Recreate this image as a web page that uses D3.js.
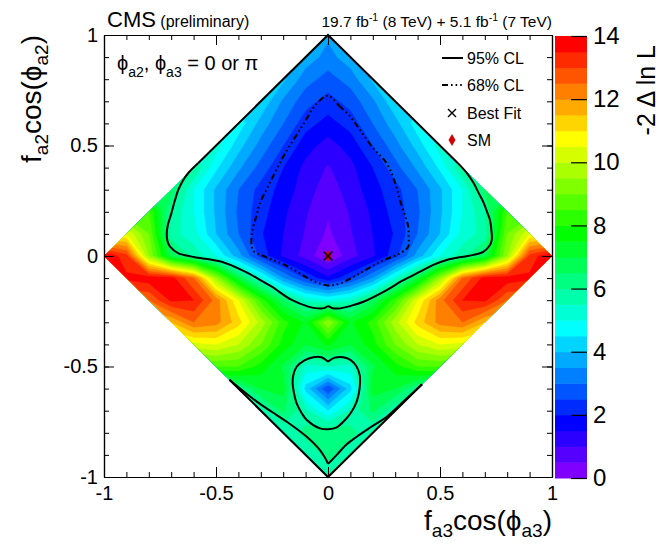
<!DOCTYPE html>
<html>
<head>
<meta charset="utf-8">
<script src="https://cdn.jsdelivr.net/npm/d3@7"></script>
<style>
  body { margin: 0; background: #fff; }
  svg text { font-family: "Liberation Sans", Arial, Helvetica, sans-serif; fill: #000; }
</style>
</head>
<body>
<script>
// grid of -2 Delta ln L on a 0.1 step
var GRID_X = [-1.0, -0.9, -0.8, -0.7, -0.6, -0.5, -0.4, -0.3, -0.2, -0.1, 0.0, 0.1, 0.2, 0.3, 0.4, 0.5, 0.6, 0.7, 0.8, 0.9, 1.0];
var GRID_Y = [1.0, 0.9, 0.8, 0.7, 0.6, 0.5, 0.4, 0.3, 0.2, 0.1, 0.0, -0.1, -0.2, -0.3, -0.4, -0.5, -0.6, -0.7, -0.8, -0.9, -1.0];
var NLL = [
  [3.6, 3.6, 3.6, 3.6, 3.6, 3.6, 3.6, 3.6, 3.6, 3.6, 3.6, 3.6, 3.6, 3.6, 3.6, 3.6, 3.6, 3.6, 3.6, 3.6, 3.6],
  [3.8, 3.8, 3.8, 3.8, 3.8, 3.8, 3.8, 3.8, 3.8, 3.8, 3.3, 3.8, 3.8, 3.8, 3.8, 3.8, 3.8, 3.8, 3.8, 3.8, 3.8],
  [4.1, 4.1, 4.1, 4.1, 4.1, 4.1, 4.1, 4.1, 4.1, 3.2, 2.8, 3.2, 4.1, 4.1, 4.1, 4.1, 4.1, 4.1, 4.1, 4.1, 4.1],
  [4.4, 4.4, 4.4, 4.4, 4.4, 4.4, 4.4, 4.4, 3.4, 2.7, 2.3, 2.7, 3.4, 4.4, 4.4, 4.4, 4.4, 4.4, 4.4, 4.4, 4.4],
  [4.8, 4.8, 4.8, 4.8, 4.8, 4.8, 4.8, 3.8, 3.0, 2.2, 1.8, 2.2, 3.0, 3.8, 4.8, 4.8, 4.8, 4.8, 4.8, 4.8, 4.8],
  [5.3, 5.3, 5.3, 5.3, 5.3, 5.3, 4.2, 3.3, 2.5, 1.7, 1.3, 1.7, 2.5, 3.3, 4.2, 5.3, 5.3, 5.3, 5.3, 5.3, 5.3],
  [6.0, 6.0, 6.0, 6.0, 6.0, 4.6, 3.6, 2.8, 2.0, 1.35, 0.95, 1.35, 2.0, 2.8, 3.6, 4.6, 6.0, 6.0, 6.0, 6.0, 6.0],
  [6.6, 6.6, 6.6, 6.6, 5.0, 3.9, 3.0, 2.3, 1.8, 1.2, 0.75, 1.2, 1.8, 2.3, 3.0, 3.9, 5.0, 6.6, 6.6, 6.6, 6.6],
  [8.5, 8.5, 8.5, 5.9, 5.0, 3.9, 2.9, 2.2, 1.6, 1.05, 0.55, 1.05, 1.6, 2.2, 2.9, 3.9, 5.0, 5.9, 8.5, 8.5, 8.5],
  [10.5, 10.5, 9.0, 5.7, 5.2, 4.0, 3.0, 2.05, 1.5, 0.95, 0.4, 0.95, 1.5, 2.05, 3.0, 4.0, 5.2, 5.7, 9.0, 10.5, 10.5],
  [14.0, 13.2, 9.5, 6.8, 5.8, 5.0, 3.7, 2.3, 1.4, 0.8, 0.0, 0.8, 1.4, 2.3, 3.7, 5.0, 5.8, 6.8, 9.5, 13.2, 14.0],
  [13.6, 13.6, 13.8, 13.7, 12.5, 9.5, 7.0, 5.2, 3.5, 2.4, 1.6, 2.4, 3.5, 5.2, 7.0, 9.5, 12.5, 13.7, 13.8, 13.6, 13.6],
  [12.5, 12.5, 12.5, 13.6, 13.5, 12.3, 10.5, 8.3, 6.6, 5.4, 5.0, 5.4, 6.6, 8.3, 10.5, 12.3, 13.5, 13.6, 12.5, 12.5, 12.5],
  [11.5, 11.5, 11.5, 11.5, 12.5, 12.2, 11.2, 9.8, 8.2, 7.4, 9.5, 7.4, 8.2, 9.8, 11.2, 12.2, 12.5, 11.5, 11.5, 11.5, 11.5],
  [10.3, 10.3, 10.3, 10.3, 10.3, 10.5, 10.0, 9.0, 7.8, 7.0, 7.6, 7.0, 7.8, 9.0, 10.0, 10.5, 10.3, 10.3, 10.3, 10.3, 10.3],
  [8.5, 8.5, 8.5, 8.5, 8.5, 8.5, 8.5, 7.8, 6.9, 5.3, 5.5, 5.3, 6.9, 7.8, 8.5, 8.5, 8.5, 8.5, 8.5, 8.5, 8.5],
  [6.0, 6.0, 6.0, 6.0, 6.0, 6.0, 6.0, 7.0, 7.2, 4.3, 2.5, 4.3, 7.2, 7.0, 6.0, 6.0, 6.0, 6.0, 6.0, 6.0, 6.0],
  [5.6, 5.6, 5.6, 5.6, 5.6, 5.6, 5.6, 5.6, 6.6, 5.6, 4.5, 5.6, 6.6, 5.6, 5.6, 5.6, 5.6, 5.6, 5.6, 5.6, 5.6],
  [5.5, 5.5, 5.5, 5.5, 5.5, 5.5, 5.5, 5.5, 5.5, 6.2, 6.5, 6.2, 5.5, 5.5, 5.5, 5.5, 5.5, 5.5, 5.5, 5.5, 5.5],
  [5.5, 5.5, 5.5, 5.5, 5.5, 5.5, 5.5, 5.5, 5.5, 5.5, 6.2, 5.5, 5.5, 5.5, 5.5, 5.5, 5.5, 5.5, 5.5, 5.5, 5.5],
  [5.5, 5.5, 5.5, 5.5, 5.5, 5.5, 5.5, 5.5, 5.5, 5.5, 5.5, 5.5, 5.5, 5.5, 5.5, 5.5, 5.5, 5.5, 5.5, 5.5, 5.5]
];

// contour lines (x, y)
var CL95_EDGE = [[-0.58, 0.42], [0, 1], [0.58, 0.42]];
var CL95_RIGHT = [[0.58, 0.42], [0.62, 0.375], [0.65, 0.33], [0.675, 0.28], [0.693, 0.245], [0.71, 0.2], [0.723, 0.163], [0.73, 0.11], [0.731, 0.072], [0.72, 0.045], [0.693, 0.019], [0.65, 0.005], [0.604, -0.003], [0.53, -0.018], [0.47, -0.04], [0.411, -0.071], [0.33, -0.113], [0.262, -0.154], [0.158, -0.207], [0.1, -0.226], [0.054, -0.237], [0.02, -0.236], [0, -0.226]];
var CL95_LEFT = [[-0.58, 0.42], [-0.62, 0.38], [-0.646, 0.344], [-0.668, 0.3], [-0.683, 0.253], [-0.7, 0.19], [-0.715, 0.14], [-0.72, 0.1], [-0.716, 0.065], [-0.705, 0.042], [-0.668, 0.012], [-0.62, 0.0], [-0.594, -0.006], [-0.475, -0.026], [-0.37, -0.071], [-0.3, -0.11], [-0.251, -0.139], [-0.162, -0.199], [-0.088, -0.229], [-0.045, -0.237], [-0.018, -0.236], [0, -0.226]];
var CL95_LOW_EDGE = [[-0.44, -0.56], [0, -1], [0.42, -0.58]];
var CL95_LOW_RIGHT = [[0.42, -0.58], [0.34, -0.655], [0.262, -0.727], [0.19, -0.775], [0.128, -0.818], [0.08, -0.855], [0.039, -0.9], [0.015, -0.925], [0, -0.94]];
var CL95_LOW_LEFT = [[-0.44, -0.56], [-0.38, -0.61], [-0.318, -0.659], [-0.25, -0.706], [-0.184, -0.75], [-0.095, -0.818], [-0.036, -0.878], [-0.012, -0.915], [0, -0.94]];
var HEART_RIGHT = [[0, -0.478], [0.03, -0.46], [0.068, -0.458], [0.1, -0.47], [0.128, -0.501], [0.142, -0.54], [0.143, -0.576], [0.138, -0.62], [0.128, -0.659], [0.108, -0.7], [0.083, -0.734], [0.039, -0.775], [0, -0.784]];
var HEART_LEFT = [[0, -0.478], [-0.03, -0.458], [-0.066, -0.458], [-0.105, -0.472], [-0.14, -0.501], [-0.155, -0.54], [-0.158, -0.576], [-0.152, -0.62], [-0.14, -0.667], [-0.118, -0.71], [-0.095, -0.742], [-0.036, -0.78], [0, -0.784]];
var CL68 = [[0, 0.725], [0.05, 0.68], [0.1, 0.63], [0.143, 0.57], [0.2, 0.49], [0.262, 0.419], [0.3, 0.33], [0.321, 0.253], [0.345, 0.18], [0.358, 0.133], [0.36, 0.085], [0.358, 0.042], [0.321, 0.012], [0.232, -0.026], [0.143, -0.078], [0.054, -0.124], [0, -0.133], [-0.073, -0.109], [-0.177, -0.048], [-0.281, -0.003], [-0.33, 0.02], [-0.34, 0.042], [-0.34, 0.103], [-0.32, 0.18], [-0.304, 0.238], [-0.26, 0.33], [-0.2, 0.449], [-0.12, 0.58], [-0.05, 0.69]];

var BEST_FIT = [0, 0];
var SM_POINT = [0, 0];

var X_TICKS = [-1, -0.5, 0, 0.5, 1];
var Y_TICKS = [-1, -0.5, 0, 0.5, 1];
var Z_TICKS = [0, 2, 4, 6, 8, 10, 12, 14];
var Z_MAX = 14;
var Z_STEP = 0.5;
var LEGEND_LABELS = ["95% CL", "68% CL", "Best Fit", "SM"];

var W = 660, H = 545;
var svg = d3.select("body").append("svg").attr("width", W).attr("height", H);

var x = d3.scaleLinear().domain([-1, 1]).range([104, 552]);
var y = d3.scaleLinear().domain([-1, 1]).range([477, 35]);
var z = d3.scaleLinear().domain([0, Z_MAX]).range([478, 36]);

var levels = d3.range(0, Z_MAX, Z_STEP);
function bandColor(i) {
  return d3.hsl(270 * (1 - i / (levels.length - 1)), 1, 0.5).toString();
}

// diamond clip
svg.append("clipPath").attr("id", "diamond").append("path")
  .attr("d", "M" + x(-1) + "," + y(0) + "L" + x(0) + "," + y(1) + "L" + x(1) + "," + y(0) + "L" + x(0) + "," + y(-1) + "Z");

// heatmap bands from the grid
var nx = GRID_X.length, ny = GRID_Y.length;
var gx = d3.scaleLinear().domain([0.5, nx - 0.5]).range([GRID_X[0], GRID_X[nx - 1]]);
var gy = d3.scaleLinear().domain([0.5, ny - 0.5]).range([GRID_Y[0], GRID_Y[ny - 1]]);
var flat = [];
NLL.forEach(function (row) { row.forEach(function (v) { flat.push(v); }); });

var bands = d3.contours().size([nx, ny]).thresholds(levels)(flat);
var proj = d3.geoTransform({
  point: function (px, py) { this.stream.point(x(gx(px)), y(gy(py))); }
});
var geo = d3.geoPath(proj);

svg.append("g").attr("clip-path", "url(#diamond)")
  .selectAll("path").data(bands).enter().append("path")
  .attr("d", geo)
  .attr("fill", function (d, i) { return bandColor(i); })
  .attr("stroke", function (d, i) { return bandColor(i); })
  .attr("stroke-width", 0.4);

// contour lines
var lineLin = d3.line().x(function (d) { return x(d[0]); }).y(function (d) { return y(d[1]); });
var lineSmooth = d3.line().curve(d3.curveCatmullRom.alpha(0.5)).x(function (d) { return x(d[0]); }).y(function (d) { return y(d[1]); });
var lineClosed = d3.line().curve(d3.curveCatmullRomClosed.alpha(0.5)).x(function (d) { return x(d[0]); }).y(function (d) { return y(d[1]); });

var cl = svg.append("g").attr("fill", "none").attr("stroke", "#000").attr("stroke-width", 2);
cl.append("path").attr("d", lineLin(CL95_EDGE)).attr("stroke-linejoin", "miter");
cl.append("path").attr("d", lineLin(CL95_LOW_EDGE)).attr("stroke-linejoin", "miter");
[CL95_RIGHT, CL95_LEFT, CL95_LOW_RIGHT, CL95_LOW_LEFT, HEART_RIGHT, HEART_LEFT].forEach(function (pts) {
  cl.append("path").attr("d", lineSmooth(pts));
});
cl.append("path").attr("d", lineClosed(CL68)).attr("stroke-dasharray", "6,3,1.6,3,1.6,3,1.6,3");

// markers
function drawSM(g, cx, cy) {
  g.append("path").attr("d", d3.symbol(d3.symbolDiamond, 42)())
    .attr("transform", "translate(" + cx + "," + cy + ")").attr("fill", "#d40000");
}
function drawCross(g, cx, cy, r) {
  g.append("path").attr("d", "M" + (cx - r) + "," + (cy - r) + "L" + (cx + r) + "," + (cy + r) + "M" + (cx - r) + "," + (cy + r) + "L" + (cx + r) + "," + (cy - r))
    .attr("stroke", "#000").attr("stroke-width", 1.4).attr("fill", "none");
}
drawSM(svg, x(SM_POINT[0]), y(SM_POINT[1]));
drawCross(svg, x(BEST_FIT[0]), y(BEST_FIT[1]), 4.5);

// frame and axes
function styleAxis(g, size) {
  g.selectAll("path.domain").attr("stroke", "#000").attr("stroke-width", 1.2);
  g.selectAll(".tick line").attr("stroke", "#000").attr("stroke-width", 1);
  g.attr("font-family", null).attr("font-size", null);
  g.selectAll("g").attr("font-family", null).attr("font-size", null);
  g.selectAll("text").attr("font-size", size);
}
var minor = d3.range(-10, 11).map(function (k) { return k / 10; });
var fmt = function (d) { return String(d); };

var gb = svg.append("g").attr("transform", "translate(0," + y(-1) + ")");
gb.call(d3.axisBottom(x).tickValues(minor).tickSizeInner(-5).tickSizeOuter(0).tickFormat(""));
gb.append("g").call(d3.axisBottom(x).tickValues(X_TICKS).tickSizeInner(-10).tickSizeOuter(0).tickPadding(9).tickFormat(fmt));
styleAxis(gb, 20);

var gt = svg.append("g").attr("transform", "translate(0," + y(1) + ")");
gt.call(d3.axisTop(x).tickValues(minor).tickSizeInner(-5).tickSizeOuter(0).tickFormat(""));
gt.append("g").call(d3.axisTop(x).tickValues(X_TICKS).tickSizeInner(-10).tickSizeOuter(0).tickFormat(""));
styleAxis(gt, 20);

var gl = svg.append("g").attr("transform", "translate(" + x(-1) + ",0)");
gl.call(d3.axisLeft(y).tickValues(minor).tickSizeInner(-5).tickSizeOuter(0).tickFormat(""));
gl.append("g").call(d3.axisLeft(y).tickValues(Y_TICKS).tickSizeInner(-10).tickSizeOuter(0).tickPadding(6).tickFormat(fmt));
styleAxis(gl, 20);

var gr = svg.append("g").attr("transform", "translate(" + x(1) + ",0)");
gr.call(d3.axisRight(y).tickValues(minor).tickSizeInner(-5).tickSizeOuter(0).tickFormat(""));
gr.append("g").call(d3.axisRight(y).tickValues(Y_TICKS).tickSizeInner(-10).tickSizeOuter(0).tickFormat(""));
styleAxis(gr, 20);

// colour bar
var bar = svg.append("g");
bar.selectAll("rect").data(levels).enter().append("rect")
  .attr("x", 555).attr("width", 32)
  .attr("y", function (d) { return z(Math.min(d + Z_STEP, Z_MAX)); })
  .attr("height", function (d) { return z(d) - z(Math.min(d + Z_STEP, Z_MAX)) + 0.5; })
  .attr("fill", function (d, i) { return bandColor(i); });
var gz = svg.append("g").attr("transform", "translate(587,0)");
gz.call(d3.axisRight(z).tickValues(Z_TICKS).tickSizeInner(-16).tickSizeOuter(0).tickPadding(6).tickFormat(fmt));
gz.select("path.domain").remove();
gz.selectAll(".tick line").attr("stroke", "#000").attr("stroke-width", 1.2);
gz.attr("font-family", null).attr("font-size", null);
gz.selectAll("text").attr("font-size", 24);

svg.append("text").attr("transform", "translate(655,45) rotate(-90)")
  .attr("text-anchor", "end").attr("font-size", 25).text("-2 \u0394 ln L");

// axis titles
var xt = svg.append("text").attr("x", 552).attr("y", 530).attr("text-anchor", "end").attr("font-size", 28);
xt.append("tspan").text("f");
xt.append("tspan").attr("font-size", 19).attr("dy", 7).text("a3");
xt.append("tspan").attr("dy", -7).text("cos(\u03d5");
xt.append("tspan").attr("font-size", 19).attr("dy", 7).text("a3");
xt.append("tspan").attr("dy", -7).text(")");

var yt = svg.append("text").attr("transform", "translate(41,35) rotate(-90)").attr("text-anchor", "end").attr("font-size", 28);
yt.append("tspan").text("f");
yt.append("tspan").attr("font-size", 19).attr("dy", 7).text("a2");
yt.append("tspan").attr("dy", -7).text("cos(\u03d5");
yt.append("tspan").attr("font-size", 19).attr("dy", 7).text("a2");
yt.append("tspan").attr("dy", -7).text(")");

// header
var cms = svg.append("text").attr("x", 107).attr("y", 27).attr("font-size", 22);
cms.append("tspan").text("CMS");
cms.append("tspan").attr("font-size", 16).text(" (preliminary)");

var lumi = svg.append("text").attr("x", 552).attr("y", 27).attr("text-anchor", "end").attr("font-size", 15.5);
lumi.append("tspan").text("19.7 fb");
lumi.append("tspan").attr("font-size", 10.5).attr("dy", -6).text("-1");
lumi.append("tspan").attr("dy", 6).text(" (8 TeV) + 5.1 fb");
lumi.append("tspan").attr("font-size", 10.5).attr("dy", -6).text("-1");
lumi.append("tspan").attr("dy", 6).text(" (7 TeV)");

var phi = svg.append("text").attr("x", 117).attr("y", 70).attr("font-size", 20);
phi.append("tspan").text("\u03d5");
phi.append("tspan").attr("font-size", 14).attr("dy", 7).text("a2");
phi.append("tspan").attr("dy", -7).text(", \u03d5");
phi.append("tspan").attr("font-size", 14).attr("dy", 7).text("a3");
phi.append("tspan").attr("dy", -7).text(" = 0 or \u03c0");

// legend
var leg = svg.append("g").attr("font-size", 16);
var rowY = [58, 85, 113, 140];
leg.selectAll("text").data(LEGEND_LABELS).enter().append("text")
  .attr("x", 467).attr("y", function (d, i) { return rowY[i] + 5.5; }).text(function (d) { return d; });
leg.append("line").attr("x1", 442).attr("x2", 463).attr("y1", rowY[0]).attr("y2", rowY[0]).attr("stroke", "#000").attr("stroke-width", 2);
leg.append("line").attr("x1", 442).attr("x2", 463).attr("y1", rowY[1]).attr("y2", rowY[1]).attr("stroke", "#000").attr("stroke-width", 2).attr("stroke-dasharray", "6,3,1.6,3,1.6,3,1.6,3");
drawCross(leg, 452, rowY[2], 4);
drawSM(leg, 452, rowY[3]);
</script>
</body>
</html>
